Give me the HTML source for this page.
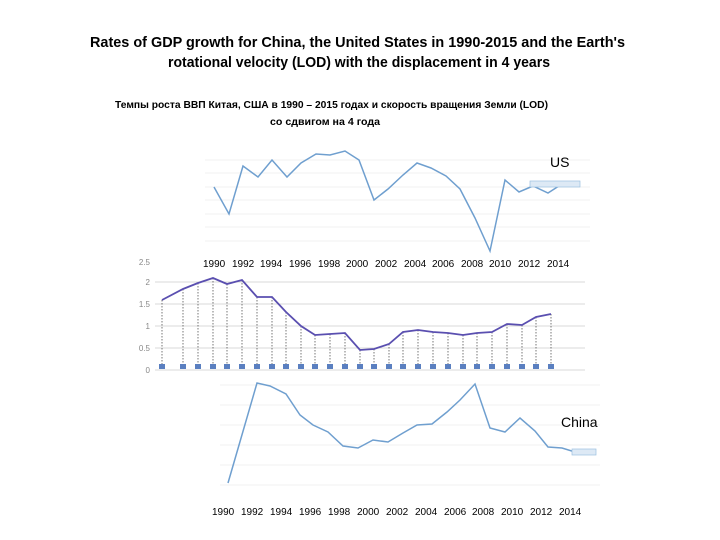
<!DOCTYPE html>
<html><head><meta charset="utf-8"><style>
body{margin:0;background:#fff;}
svg{display:block;font-family:"Liberation Sans",sans-serif;}
</style></head><body>
<svg width="720" height="540" viewBox="0 0 720 540">
<text x="90" y="47" font-size="15" font-weight="bold" textLength="535" lengthAdjust="spacingAndGlyphs">Rates of  GDP growth for   China, the United States in 1990-2015 and the Earth's</text>
<text x="168" y="67" font-size="15" font-weight="bold" textLength="382" lengthAdjust="spacingAndGlyphs">rotational velocity (LOD) with the  displacement in 4 years</text>
<text x="115" y="108" font-size="10" font-weight="bold" textLength="433" lengthAdjust="spacingAndGlyphs">Темпы роста ВВП Китая,  США в 1990 – 2015 годах  и скорость вращения Земли (LOD)</text>
<text x="270" y="125" font-size="10" font-weight="bold" textLength="110" lengthAdjust="spacingAndGlyphs">со сдвигом на 4 года</text>

<!-- US chart -->
<g stroke="#f0f0f0" stroke-width="1">
<line x1="205" y1="160" x2="590" y2="160"/><line x1="205" y1="173" x2="590" y2="173"/><line x1="205" y1="187" x2="590" y2="187"/><line x1="205" y1="200" x2="590" y2="200"/><line x1="205" y1="214" x2="590" y2="214"/><line x1="205" y1="227" x2="590" y2="227"/><line x1="205" y1="241" x2="590" y2="241"/>
</g>
<polyline fill="none" stroke="#6f9fcf" stroke-width="1.5" points="214,187 229,214 243,166 258,177 272,160 287,177 301,163 316,154 330,155 345,151 359,160 374,200 388,189 403,175 417,163 431,168 446,176 460,189 475,218 490,251 505,180 519,192 533,186 548,193 562,184 571,184"/>
<rect x="530" y="181" width="50" height="6" fill="#dde9f5" stroke="#9cc0e0" stroke-width="0.7"/>
<text x="550" y="167" font-size="14">US</text>
<g font-size="10" fill="#000">
<text x="203" y="267">1990</text><text x="232" y="267">1992</text><text x="260" y="267">1994</text><text x="289" y="267">1996</text><text x="318" y="267">1998</text><text x="346" y="267">2000</text><text x="375" y="267">2002</text><text x="404" y="267">2004</text><text x="432" y="267">2006</text><text x="461" y="267">2008</text><text x="489" y="267">2010</text><text x="518" y="267">2012</text><text x="547" y="267">2014</text>
</g>

<!-- LOD chart -->
<g stroke="#d8d8d8" stroke-width="1">
<line x1="155" y1="282" x2="585" y2="282"/><line x1="155" y1="304" x2="585" y2="304"/><line x1="155" y1="326" x2="585" y2="326"/><line x1="155" y1="348" x2="585" y2="348"/><line x1="155" y1="370" x2="585" y2="370"/>
</g>
<g font-size="8" fill="#888" text-anchor="end">
<text x="150" y="265">2.5</text><text x="150" y="285">2</text><text x="150" y="307">1.5</text><text x="150" y="329">1</text><text x="150" y="351">0.5</text><text x="150" y="373">0</text>
</g>
<g stroke="#555" stroke-width="0.8" stroke-dasharray="1.5,1.5">
<line x1="162" y1="300" x2="162" y2="365"/><line x1="183" y1="289" x2="183" y2="365"/><line x1="198" y1="283" x2="198" y2="365"/><line x1="213" y1="278" x2="213" y2="365"/><line x1="227" y1="284" x2="227" y2="365"/><line x1="242" y1="280" x2="242" y2="365"/><line x1="257" y1="297" x2="257" y2="365"/><line x1="272" y1="297" x2="272" y2="365"/><line x1="286" y1="312" x2="286" y2="365"/><line x1="301" y1="326" x2="301" y2="365"/><line x1="315" y1="335" x2="315" y2="365"/><line x1="330" y1="334" x2="330" y2="365"/><line x1="345" y1="333" x2="345" y2="365"/><line x1="360" y1="350" x2="360" y2="365"/><line x1="374" y1="349" x2="374" y2="365"/><line x1="389" y1="344" x2="389" y2="365"/><line x1="403" y1="332" x2="403" y2="365"/><line x1="418" y1="330" x2="418" y2="365"/><line x1="433" y1="332" x2="433" y2="365"/><line x1="448" y1="333" x2="448" y2="365"/><line x1="463" y1="335" x2="463" y2="365"/><line x1="477" y1="333" x2="477" y2="365"/><line x1="492" y1="332" x2="492" y2="365"/><line x1="507" y1="324" x2="507" y2="365"/><line x1="522" y1="325" x2="522" y2="365"/><line x1="536" y1="317" x2="536" y2="365"/><line x1="551" y1="314" x2="551" y2="365"/>
</g>
<polyline fill="none" stroke="#5a4fb0" stroke-width="1.8" points="162,300 183,289 198,283 213,278 227,284 242,280 257,297 272,297 286,312 301,326 315,335 330,334 345,333 360,350 374,349 389,344 403,332 418,330 433,332 448,333 463,335 477,333 492,332 507,324 522,325 536,317 551,314"/>
<g fill="#5a7fc0">
<rect x="159" y="364" width="6" height="5"/><rect x="180" y="364" width="6" height="5"/><rect x="195" y="364" width="6" height="5"/><rect x="210" y="364" width="6" height="5"/><rect x="224" y="364" width="6" height="5"/><rect x="239" y="364" width="6" height="5"/><rect x="254" y="364" width="6" height="5"/><rect x="269" y="364" width="6" height="5"/><rect x="283" y="364" width="6" height="5"/><rect x="298" y="364" width="6" height="5"/><rect x="312" y="364" width="6" height="5"/><rect x="327" y="364" width="6" height="5"/><rect x="342" y="364" width="6" height="5"/><rect x="357" y="364" width="6" height="5"/><rect x="371" y="364" width="6" height="5"/><rect x="386" y="364" width="6" height="5"/><rect x="400" y="364" width="6" height="5"/><rect x="415" y="364" width="6" height="5"/><rect x="430" y="364" width="6" height="5"/><rect x="445" y="364" width="6" height="5"/><rect x="460" y="364" width="6" height="5"/><rect x="474" y="364" width="6" height="5"/><rect x="489" y="364" width="6" height="5"/><rect x="504" y="364" width="6" height="5"/><rect x="519" y="364" width="6" height="5"/><rect x="533" y="364" width="6" height="5"/><rect x="548" y="364" width="6" height="5"/>
</g>

<!-- China chart -->
<g stroke="#f0f0f0" stroke-width="1">
<line x1="220" y1="385" x2="600" y2="385"/><line x1="220" y1="405" x2="600" y2="405"/><line x1="220" y1="425" x2="600" y2="425"/><line x1="220" y1="445" x2="600" y2="445"/><line x1="220" y1="465" x2="600" y2="465"/><line x1="220" y1="485" x2="600" y2="485"/>
</g>
<polyline fill="none" stroke="#6f9fcf" stroke-width="1.5" points="228,483 257,383 270,386 286,394 300,415 313,425 328,432 343,446 358,448 373,440 388,442 403,433 417,425 432,424 447,412 460,400 475,384 490,428 505,432 520,418 535,431 548,447 562,448 575,452 594,454"/>
<rect x="572" y="449" width="24" height="6" fill="#dde9f5" stroke="#9cc0e0" stroke-width="0.7"/>
<text x="561" y="427" font-size="14">China</text>
<g font-size="10" fill="#000">
<text x="212" y="515">1990</text><text x="241" y="515">1992</text><text x="270" y="515">1994</text><text x="299" y="515">1996</text><text x="328" y="515">1998</text><text x="357" y="515">2000</text><text x="386" y="515">2002</text><text x="415" y="515">2004</text><text x="444" y="515">2006</text><text x="472" y="515">2008</text><text x="501" y="515">2010</text><text x="530" y="515">2012</text><text x="559" y="515">2014</text>
</g>
</svg>
</body></html>
